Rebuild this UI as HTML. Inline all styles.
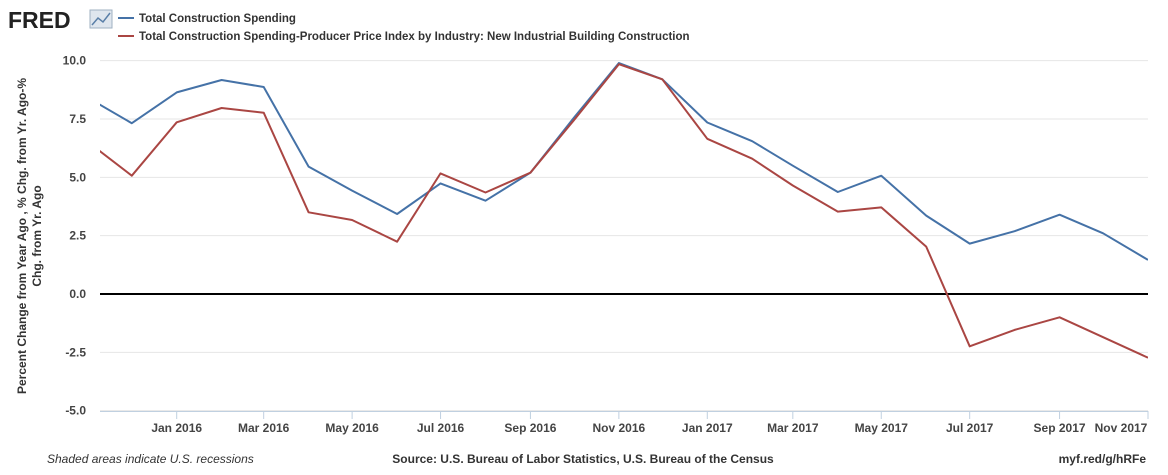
<!DOCTYPE html>
<html><head><meta charset="utf-8"><style>
body{margin:0;background:#fff;width:1168px;height:470px;overflow:hidden;font-family:"Liberation Sans",sans-serif}
svg text{font-family:"Liberation Sans",sans-serif}
</style></head><body>
<svg width="1168" height="470">
<g>
<text x="8" y="28" font-size="23" font-weight="bold" fill="#222">FRED</text>
<rect x="90" y="10" width="22" height="18" fill="#dfe6ee" stroke="#9fb0c2"/>
<polyline points="92,25 98,18 103,22 110,13" fill="none" stroke="#5a7fa8" stroke-width="1.5"/>
</g>
<g>
<line x1="118" y1="18" x2="134" y2="18" stroke="#4572a7" stroke-width="2"/>
<text x="139" y="22" font-size="11.5" font-weight="bold" fill="#333">Total Construction Spending</text>
<line x1="118" y1="36" x2="134" y2="36" stroke="#aa4643" stroke-width="2"/>
<text x="139" y="40" font-size="11.5" font-weight="bold" fill="#333">Total Construction Spending-Producer Price Index by Industry: New Industrial Building Construction</text>
</g>
<g id="grid"></g>
<g id="yticks"></g>
<g id="xaxis"></g>
<defs><clipPath id="clip"><rect x="100" y="40" width="1048" height="380"/></clipPath></defs>
<g id="series" clip-path="url(#clip)"></g>
<text transform="translate(26,236) rotate(-90)" text-anchor="middle" font-size="12" font-weight="bold" fill="#333"><tspan x="0" dy="0">Percent Change from Year Ago , % Chg. from Yr. Ago-%</tspan><tspan x="0" dy="15">Chg. from Yr. Ago</tspan></text>
<text x="47" y="463" font-size="12" font-style="italic" fill="#333">Shaded areas indicate U.S. recessions</text>
<text x="583" y="463" text-anchor="middle" font-size="12" font-weight="bold" fill="#333">Source: U.S. Bureau of Labor Statistics, U.S. Bureau of the Census</text>
<text x="1146" y="463" text-anchor="end" font-size="12" font-weight="bold" fill="#333">myf.red/g/hRFe</text>
</svg>
<script>
const dates=["2015-11-01","2015-12-01","2016-01-01","2016-02-01","2016-03-01","2016-04-01","2016-05-01","2016-06-01","2016-07-01","2016-08-01","2016-09-01","2016-10-01","2016-11-01","2016-12-01","2017-01-01","2017-02-01","2017-03-01","2017-04-01","2017-05-01","2017-06-01","2017-07-01","2017-08-01","2017-09-01","2017-10-01","2017-11-01"];
const totalSpending=[8.4,7.32,8.64,9.17,8.87,5.46,4.43,3.43,4.74,4.0,5.2,7.55,9.9,9.2,7.35,6.55,5.5,4.37,5.07,3.36,2.16,2.69,3.4,2.6,1.46];
const ppiAdjusted=[6.5,5.07,7.36,7.97,7.77,3.5,3.17,2.24,5.17,4.35,5.2,7.45,9.85,9.2,6.65,5.8,4.65,3.53,3.71,2.03,-2.24,-1.54,-1.0,-1.85,-2.73];
const yTicks=[10,7.5,5,2.5,0,-2.5,-5];
const yTickLabels=["10.0","7.5","5.0","2.5","0.0","-2.5","-5.0"];
const xTickDates=["2016-01-01","2016-03-01","2016-05-01","2016-07-01","2016-09-01","2016-11-01","2017-01-01","2017-03-01","2017-05-01","2017-07-01","2017-09-01","2017-11-01"];
const xTickLabels=["Jan 2016","Mar 2016","May 2016","Jul 2016","Sep 2016","Nov 2016","Jan 2017","Mar 2017","May 2017","Jul 2017","Sep 2017","Nov 2017"];
const NS="http://www.w3.org/2000/svg";
const t0=Date.parse("2016-01-01"),t1=Date.parse("2017-11-01");
function xs(d){return 176.7+(Date.parse(d)-t0)/(t1-t0)*(1148-176.7);}
function ys(v){return 294-v*(350/15);}
function mk(tag,attrs,parent){const e=document.createElementNS(NS,tag);for(const k in attrs)e.setAttribute(k,attrs[k]);parent.appendChild(e);return e;}
const grid=document.getElementById('grid'),yt=document.getElementById('yticks'),xa=document.getElementById('xaxis'),se=document.getElementById('series');
yTicks.forEach((v,i)=>{
 const l=mk('line',{x1:100,x2:1148,y1:ys(v),y2:ys(v),stroke:v===0?'#000':'#e6e6e6','stroke-width':v===0?2:1},grid);
 
 
 const t=mk('text',{x:86,y:ys(v)+4,'text-anchor':'end','font-size':12,'font-weight':'bold',fill:'#444'},yt);
 t.textContent=yTickLabels[i];
 
 
});
const ax=mk('line',{x1:100,x2:1148,y1:411.5,y2:411.5,stroke:'#c0d0e0'},xa);


xTickDates.forEach((d,i)=>{
 const x=xs(d);
 const tk=mk('line',{x1:x,x2:x,y1:411,y2:419,stroke:'#c0d0e0'},xa);
 
 
 const t=mk('text',{x:i===xTickDates.length-1?x-27:x,y:432,'text-anchor':'middle','font-size':12,'font-weight':'bold',fill:'#444'},xa);
 t.textContent=xTickLabels[i];
 
 
});
function line(vals,color,name){
 const p=mk('polyline',{points:vals.map((v,i)=>xs(dates[i]).toFixed(1)+','+ys(v).toFixed(1)).join(' '),fill:'none',stroke:color,'stroke-width':2,'stroke-linejoin':'round'},se);
 
 
}
line(totalSpending,'#4572a7','total-spending-line');
line(ppiAdjusted,'#aa4643','ppi-adjusted-line');
</script>
</body></html>
